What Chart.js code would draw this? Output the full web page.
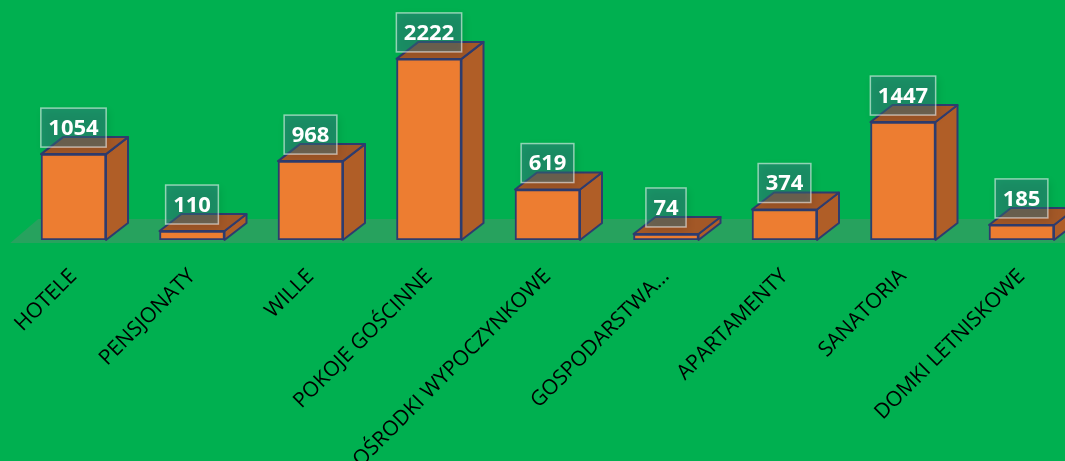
<!DOCTYPE html>
<html>
<head>
<meta charset="utf-8">
<script src="https://cdn.jsdelivr.net/npm/chart.js@4/dist/chart.umd.min.js"></script>
<style>
  html, body { margin: 0; padding: 0; background: #00B050; overflow: hidden; }
  #wrap { width: 1100px; height: 461px; }
</style>
</head>
<body>
<div id="wrap"><canvas id="c" width="1100" height="461"></canvas></div>
<script>
const categories = ['HOTELE', 'PENSJONATY', 'WILLE', 'POKOJE GOŚCINNE', 'OŚRODKI WYPOCZYNKOWE', 'GOSPODARSTWA...', 'APARTAMENTY', 'SANATORIA', 'DOMKI LETNISKOWE'];
const values = [1054, 110, 968, 2222, 619, 74, 374, 1447, 185];
const yMin = 0;
const yMax = 2500;

const DX = 22, DY = -17;
const EDGE = '#2E3C6E';

const bar3d = {
  id: 'bar3d',
  beforeDatasetsDraw(chart) {
    const ctx = chart.ctx;
    const area = chart.chartArea;
    const y0 = chart.scales.y.getPixelForValue(0);
    ctx.save();
    // floor
    ctx.fillStyle = 'rgba(128,128,128,0.3)';
    ctx.beginPath();
    ctx.moveTo(area.left - 4, y0 + 3);
    ctx.lineTo(area.right + 40, y0 + 3);
    ctx.lineTo(area.right + 68, y0 - 21);
    ctx.lineTo(area.left + 24, y0 - 21);
    ctx.closePath();
    ctx.fill();
    // side and top faces
    ctx.lineWidth = 2;
    ctx.lineJoin = 'round';
    ctx.strokeStyle = EDGE;
    chart.getDatasetMeta(0).data.forEach(bar => {
      const p = bar.getProps(['x', 'y', 'base', 'width'], true);
      const l = p.x - p.width / 2, r = p.x + p.width / 2;
      ctx.fillStyle = '#B05E27';
      ctx.beginPath();
      ctx.moveTo(r, p.y); ctx.lineTo(r + DX, p.y + DY);
      ctx.lineTo(r + DX, p.base + DY); ctx.lineTo(r, p.base);
      ctx.closePath(); ctx.fill(); ctx.stroke();
      ctx.fillStyle = '#A35827';
      ctx.beginPath();
      ctx.moveTo(l, p.y); ctx.lineTo(r, p.y);
      ctx.lineTo(r + DX, p.y + DY); ctx.lineTo(l + DX, p.y + DY);
      ctx.closePath(); ctx.fill(); ctx.stroke();
    });
    ctx.restore();
  },
  afterDatasetsDraw(chart) {
    const ctx = chart.ctx;
    ctx.save();
    ctx.font = 'bold 22px "Open Sans"';
    ctx.textAlign = 'center';
    ctx.textBaseline = 'middle';
    chart.getDatasetMeta(0).data.forEach((bar, i) => {
      const p = bar.getProps(['x', 'y'], true);
      const txt = String(values[i]);
      const w = ctx.measureText(txt).width + 15;
      const h = 39;
      const cx = p.x, cy = p.y - 26.5;
      ctx.save();
      ctx.shadowColor = 'rgba(0,0,0,0.25)';
      ctx.shadowBlur = 8;
      ctx.shadowOffsetX = 2;
      ctx.shadowOffsetY = 3;
      ctx.fillStyle = 'rgba(55,115,130,0.45)';
      ctx.fillRect(cx - w / 2, cy - h / 2, w, h);
      ctx.restore();
      ctx.strokeStyle = 'rgba(255,255,255,0.55)';
      ctx.lineWidth = 1.5;
      ctx.strokeRect(cx - w / 2, cy - h / 2, w, h);
      ctx.fillStyle = '#FFFFFF';
      ctx.fillText(txt, cx, cy + 1);
    });
    ctx.restore();
  }
};

new Chart(document.getElementById('c'), {
  type: 'bar',
  data: {
    labels: categories,
    datasets: [{
      data: values,
      backgroundColor: '#ED7D31',
      borderColor: EDGE,
      borderWidth: 2,
      borderSkipped: false,
      barThickness: 65
    }]
  },
  options: {
    responsive: false,
    animation: false,
    events: [],
    layout: { padding: { left: 14.25, right: 19.25, top: 36.25, bottom: 0 } },
    plugins: { legend: { display: false }, tooltip: { enabled: false } },
    scales: {
      x: {
        grid: { display: false, drawTicks: false },
        border: { display: false },
        ticks: {
          color: '#000000',
          font: { family: '"Open Sans"', size: 21 },
          minRotation: 45,
          maxRotation: 45,
          autoSkip: false,
          padding: 24
        },
        afterFit(scale) {
          scale.height = 221;
          scale.paddingLeft = 0;
          scale.paddingRight = 0;
        }
      },
      y: {
        display: false,
        min: yMin,
        max: yMax
      }
    }
  },
  plugins: [bar3d]
});
</script>
</body>
</html>
